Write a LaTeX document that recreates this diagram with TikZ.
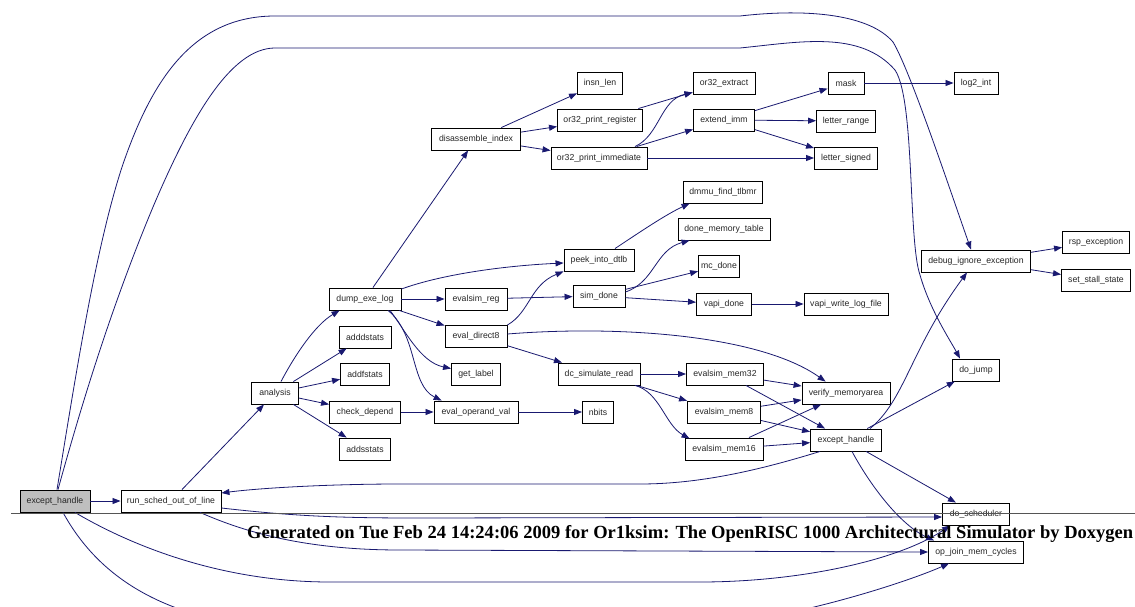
\documentclass[tikz,border=0pt]{standalone}
\usepackage{fontspec}
\usepackage{graphicx}
\setmainfont{Liberation Sans}
\newfontfamily\footfont{Liberation Serif}
\usetikzlibrary{arrows.meta,calc}
\definecolor{mblue}{HTML}{191970}
\definecolor{ebg}{HTML}{BFBFBF}
\definecolor{footgray}{HTML}{555555}
\tikzset{
  fn/.style={draw=black, line width=0.9pt, minimum height=22pt, inner sep=0pt,
    font=\fontsize{8.7}{10}\selectfont, text=black!85, fill=white},
  ed/.style={draw=mblue, line width=0.8pt, -{Triangle[length=8pt,width=6pt]}}
}
\begin{document}
\begin{tikzpicture}[x=1pt,y=-1pt]
\useasboundingbox (0,0) rectangle (1135,607);
\clip (0,0) rectangle (1135,607);
\fill[white] (0,0) rectangle (1135,607);
% nodes
\node[fn, minimum width=70pt, fill=ebg] (E0) at (55,501) {except\_handle};
\node[fn, minimum width=100pt] (R) at (171,501) {run\_sched\_out\_of\_line};
\node[fn, minimum width=47pt] (A) at (275,393) {analysis};
\node[fn, minimum width=72pt] (D) at (365,299) {dump\_exe\_log};
\node[fn, minimum width=52pt] (ADD) at (365,337) {adddstats};
\node[fn, minimum width=49pt] (ADF) at (365,374) {addfstats};
\node[fn, minimum width=71pt] (CK) at (365,412) {check\_depend};
\node[fn, minimum width=51pt] (ADS) at (365,449) {addsstats};
\node[fn, minimum width=89pt] (DI) at (476,139) {disassemble\_index};
\node[fn, minimum width=45pt] (IL) at (600,83) {insn\_len};
\node[fn, minimum width=85pt] (OPR) at (600,120) {or32\_print\_register};
\node[fn, minimum width=96pt] (OPI) at (599,158) {or32\_print\_immediate};
\node[fn, minimum width=62pt] (EX) at (724,83) {or32\_extract};
\node[fn, minimum width=61pt] (EI) at (724,120) {extend\_imm};
\node[fn, minimum width=36pt] (MK) at (846,83) {mask};
\node[fn, minimum width=44pt] (LG) at (976,83) {log2\_int};
\node[fn, minimum width=59pt] (LR) at (846,121) {letter\_range};
\node[fn, minimum width=63pt] (LS) at (846,158) {letter\_signed};
\node[fn, minimum width=79pt] (DM) at (723,192) {dmmu\_find\_tlbmr};
\node[fn, minimum width=92pt] (DMT) at (724,229) {done\_memory\_table};
\node[fn, minimum width=70pt] (PK) at (599,260) {peek\_into\_dtlb};
\node[fn, minimum width=41pt] (MC) at (719,266) {mc\_done};
\node[fn, minimum width=52pt] (SD) at (599,296) {sim\_done};
\node[fn, minimum width=55pt] (VD) at (724,304) {vapi\_done};
\node[fn, minimum width=84pt] (VW) at (846,304) {vapi\_write\_log\_file};
\node[fn, minimum width=62pt] (ER) at (476,299) {evalsim\_reg};
\node[fn, minimum width=62pt] (ED) at (476,336) {eval\_direct8};
\node[fn, minimum width=49pt] (GL) at (476,374) {get\_label};
\node[fn, minimum width=84pt] (EO) at (476,412) {eval\_operand\_val};
\node[fn, minimum width=31pt] (NB) at (598,412) {nbits};
\node[fn, minimum width=82pt] (DC) at (599,374) {dc\_simulate\_read};
\node[fn, minimum width=77pt] (M32) at (725,374) {evalsim\_mem32};
\node[fn, minimum width=73pt] (M8) at (724,412) {evalsim\_mem8};
\node[fn, minimum width=78pt] (M16) at (724,449) {evalsim\_mem16};
\node[fn, minimum width=88pt] (VM) at (846,393) {verify\_memoryarea};
\node[fn, minimum width=71pt] (E1) at (846,440) {except\_handle};
\node[fn, minimum width=47pt] (DJ) at (976,370) {do\_jump};
\node[fn, minimum width=109pt] (DB) at (976,261) {debug\_ignore\_exception};
\node[fn, minimum width=67pt] (RSP) at (1096,242) {rsp\_exception};
\node[fn, minimum width=69pt] (SS) at (1096,280) {set\_stall\_state};
\node[fn, minimum width=67pt] (DS) at (976,514) {do\_scheduler};
\node[fn, minimum width=95pt] (OJ) at (976,552) {op\_join\_mem\_cycles};
% edges from except_handle (left)
\draw[ed] (E0) -- (R);
\draw[ed] ($(E0.north)+(2,0)$) .. controls (75,380) and (95,250) .. (122,167)
  .. controls (150,85) and (190,16) .. (275,16) -- (740,16)
  .. controls (810,8) and (870,15) .. (893,42)
  .. controls (910,70) and (950,190) .. ($(DB.north)+(-5,0)$);
\draw[ed] ($(E0.north)+(3,0)$) .. controls (80,410) and (110,310) .. (153,207)
  .. controls (190,120) and (230,48) .. (275,48) -- (740,48)
  .. controls (800,42) and (860,30) .. (895,70)
  .. controls (915,100) and (908,240) .. (920,275)
  .. controls (930,310) and (950,340) .. ($(DJ.north)+(-16,0)$);
\draw[ed] ($(E0.south)+(20,0)$) .. controls (130,545) and (220,582) .. (330,582)
  -- (700,582) .. controls (800,582) and (900,560) .. ($(DS.south west)+(8,0)$);
\draw[ed] ($(E0.south)+(8,0)$) .. controls (100,580) and (170,625) .. (300,630)
  -- (650,630) .. controls (760,630) and (900,585) .. ($(OJ.south west)+(21,0)$);
% run_sched_out_of_line
\draw[ed] (R) -- (A);
\draw[ed] ($(R.east)+(0,7)$) .. controls (300,517) and (350,518) .. (420,518)
  -- ($(DS.west)+(0,3)$);
\draw[ed] ($(R.south)+(29,0)$) .. controls (240,530) and (300,550) .. (400,550)
  -- (OJ.west);
% analysis
\draw[ed] ($(A.north)+(6,0)$) .. controls (295,355) and (315,325) .. ($(D.south west)+(11,0)$);
\draw[ed] (A) -- (ADD);
\draw[ed] (A) -- (ADF);
\draw[ed] (A) -- (CK);
\draw[ed] (A) -- (ADS);
% dump_exe_log
\draw[ed] (D) -- (DI);
\draw[ed] ($(D.east)+(0,-10)$) .. controls (440,275) and (500,266) .. ($(PK.west)+(0,3)$);
\draw[ed] (D) -- (ER);
\draw[ed] (D) -- (ED);
\draw[ed] ($(D.south)+(25,0)$) .. controls (405,330) and (420,362) .. ($(GL.north west)+(0,6)$);
\draw[ed] ($(D.south)+(23,0)$) .. controls (418,335) and (410,385) .. ($(EO.north west)+(8,0)$);
\draw[ed] (CK) -- (EO);
\draw[ed] (EO) -- (NB);
% disassemble_index
\draw[ed] (DI) -- (IL);
\draw[ed] (DI) -- (OPR);
\draw[ed] (DI) -- (OPI);
\draw[ed] (OPR) -- (EX);
\draw[ed] ($(OPI.north)+(36,0)$) .. controls (660,135) and (660,100) .. ($(EX.south west)+(0,-2)$);
\draw[ed] (OPI) -- (EI);
\draw[ed] (OPI) -- (LS);
\draw[ed] (EI) -- (MK);
\draw[ed] (EI) -- (LR);
\draw[ed] (EI) -- (LS);
\draw[ed] (MK) -- (LG);
% peek / sim_done
\draw[ed] ($(PK.north)+(16,0)$) .. controls (640,232) and (665,215) .. ($(DM.south west)+(6.5,0)$);
\draw[ed] ($(SD.east)+(0,-4)$) .. controls (655,282) and (655,250) .. ($(DMT.south west)+(12,0)$);
\draw[ed] (SD) -- (MC);
\draw[ed] (SD) -- (VD);
\draw[ed] (VD) -- (VW);
\draw[ed] (ER) -- (SD);
% eval_direct8
\draw[ed] ($(ED.east)+(0,-11)$) .. controls (530,312) and (530,285) .. (PK.south west);
\draw[ed] ($(ED.east)+(0,-2)$) .. controls (620,325) and (760,335) .. ($(VM.north west)+(24,0)$);
\draw[ed] (ED) -- (DC);
% dc_simulate_read
\draw[ed] (DC) -- (M32);
\draw[ed] (DC) -- (M8);
\draw[ed] ($(DC.south)+(36,0)$) .. controls (660,392) and (665,425) .. ($(M16.north west)+(5,1)$);
\draw[ed] (M32) -- (VM);
\draw[ed] (M32) -- (E1);
\draw[ed] (M8) -- (VM);
\draw[ed] (M8) -- (E1);
\draw[ed] (M16) -- (VM);
\draw[ed] (M16) -- (E1);
% except_handle (right)
\draw[ed] ($(E1.north)+(24,0)$) .. controls (905,400) and (910,350) .. ($(DB.south)+(-9,0)$);
\draw[ed] (E1) -- (DJ);
\draw[ed] (E1) -- (DS);
\draw[ed] ($(E1.south)+(6,0)$) .. controls (870,485) and (900,525) .. ($(OJ.north west)+(6,0)$);
\draw[ed] ($(E1.south west)+(10,0)$) .. controls (760,470) and (700,484) .. (640,484)
  -- (400,484) .. controls (330,484) and (260,488) .. ($(R.east)+(0,-8)$);
% debug_ignore_exception
\draw[ed] (DB) -- (RSP);
\draw[ed] (DB) -- (SS);
% footer
\draw[line width=1pt, footgray] (11,513) -- (1135,513);
\node[anchor=base west, inner sep=0pt] (foot) at (247,538)
  {\resizebox{886pt}{!}{\footfont\bfseries Generated on Tue Feb 24 14:24:06 2009 for Or1ksim: The OpenRISC 1000 Architectural Simulator by Doxygen}};
\end{tikzpicture}
\end{document}
